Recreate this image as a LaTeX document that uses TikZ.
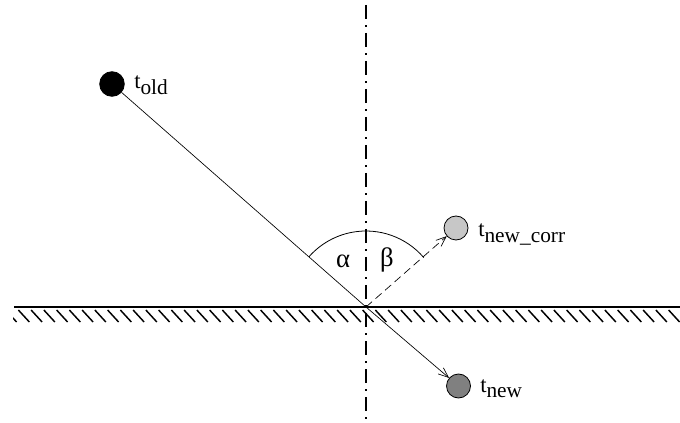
\documentclass[tikz,border=0pt]{standalone}
\usepackage{fontspec}
\setmainfont{Liberation Serif}
\usetikzlibrary{arrows.meta}
\newcommand\tlabel[1]{{\fontsize{17}{17}\selectfont t}\raisebox{-3.8pt}{\fontsize{16}{16}\selectfont #1}}
\begin{document}
\begin{tikzpicture}[x=0.75pt,y=-0.75pt,
  ball/.style={circle,draw=black,line width=0.6pt,inner sep=0pt,minimum size=18pt},
  lbl/.style={anchor=base west,inner sep=0pt},
  arr/.style={-{Straight Barb[length=7.5pt,width=6pt]},line width=0.5pt},
  greek/.style={inner sep=0pt,font=\fontsize{20}{20}\selectfont}]
\useasboundingbox (0,0) rectangle (680,423);
% axis (dash-dot)
\draw[line width=0.8pt,dash pattern=on 10.5pt off 4.8pt on 0.9pt off 4.8pt] (366,5) -- (366,423);
% surface
\draw[line width=1.6pt] (14,307) -- (680,307);
\begin{scope}
\clip (13,309) rectangle (680,324);
\foreach \i in {0,...,54} {
  \draw[line width=1.1pt] ({5.6+12.75*\i},310) -- ({16.6+12.75*\i},322);
}
\end{scope}
\coordinate (O) at (366,307);
% balls
\node[ball,fill=black,minimum size=18.5pt] (told) at (112,84) {};
\node[ball,fill=black!22] (tcorr) at (456,228) {};
\node[ball,fill=black!50] (tnew) at (458.5,386) {};
% arc
\draw[line width=0.6pt] (O) ++(-40.5:76) arc[start angle=-40.5,end angle=-138.7,radius=76];
% rays
\draw[line width=0.5pt] (told) -- (O);
\draw[arr] (O) -- (tnew);
\draw[arr,dash pattern=on 6pt off 3.5pt] (O) -- (tcorr);
% labels
\node[lbl] (lold) at (134,89) {\tlabel{old}};
\node[lbl] (lcorr) at (478,237) {\tlabel{new\_corr}};
\node[lbl] (lnew) at (480,392) {\tlabel{new}};
\node[greek] (alpha) at (343,261) {α};
\node[greek] (beta) at (387,260) {β};
\end{tikzpicture}
\end{document}
